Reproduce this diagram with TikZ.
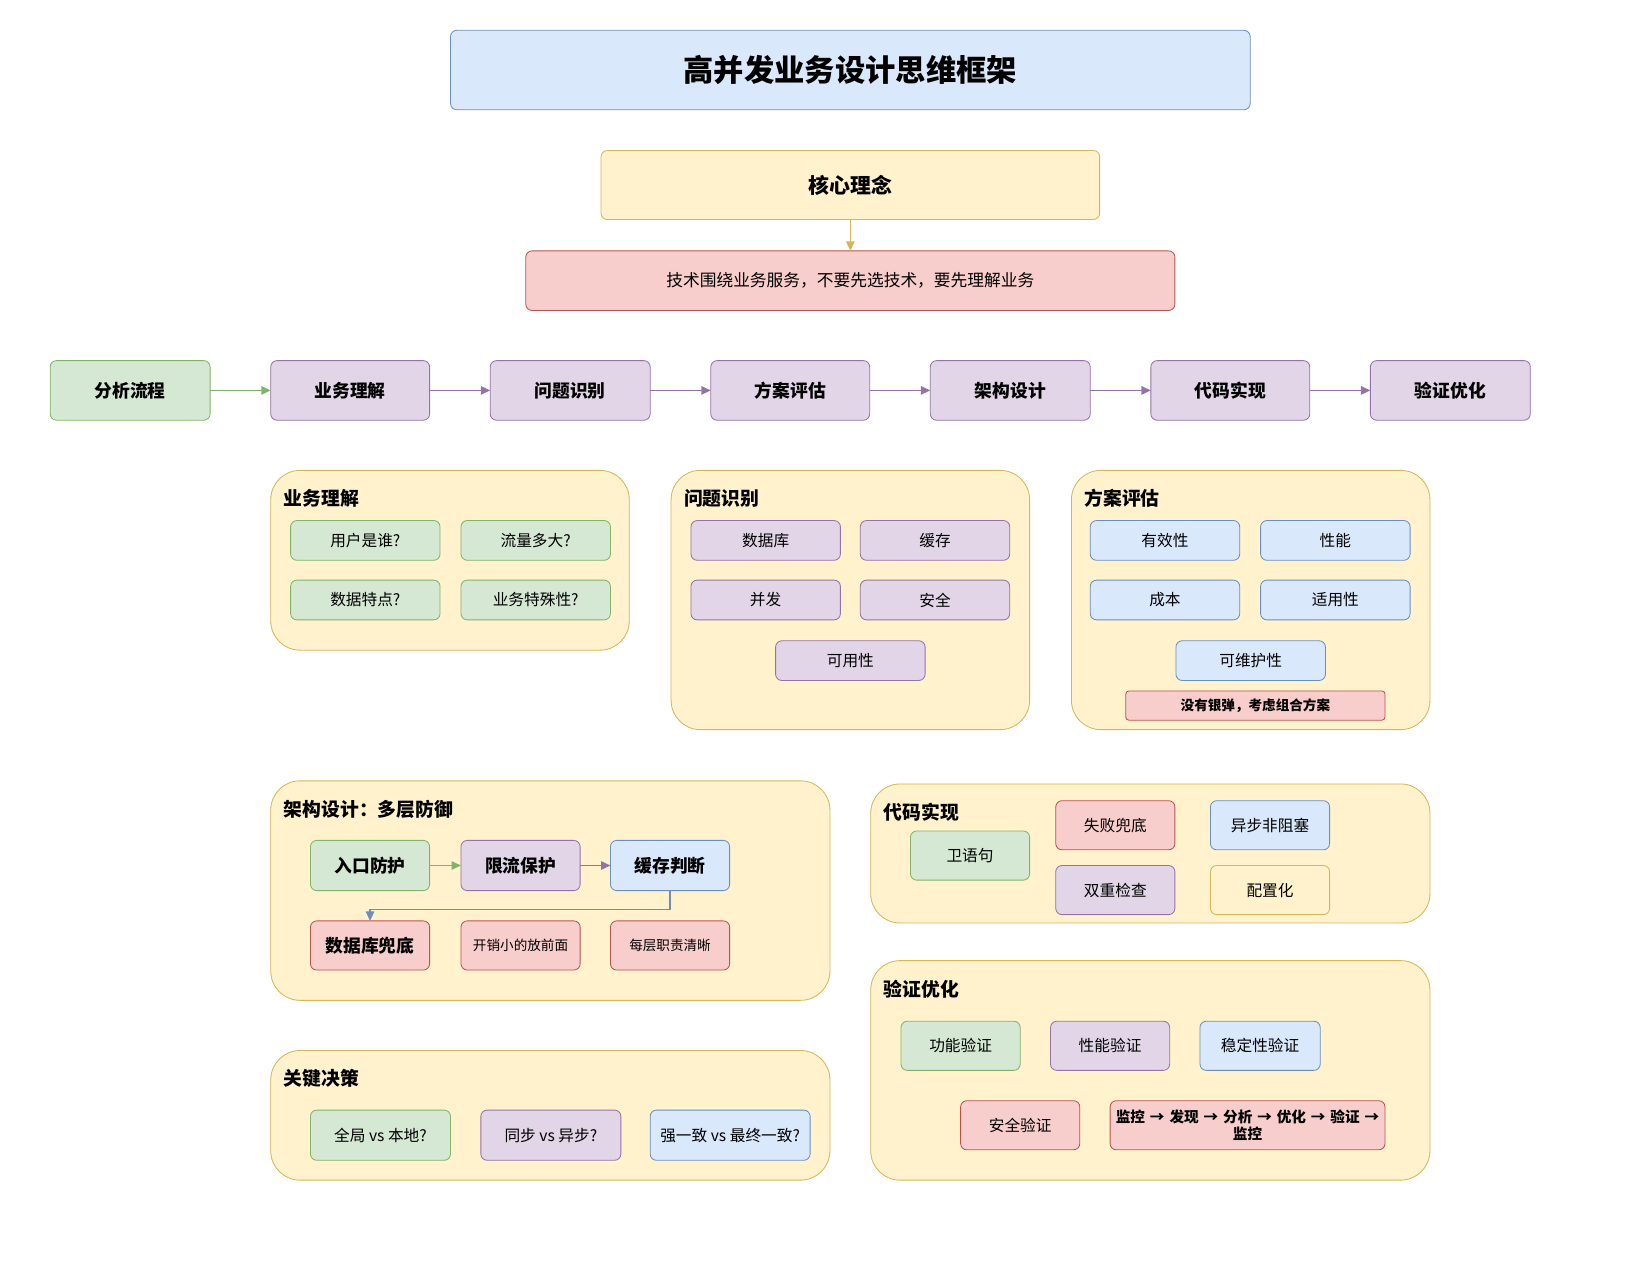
\documentclass[tikz,border=0pt]{standalone}
\usepackage{fontspec}
\setmainfont{Noto Sans CJK SC}
\usetikzlibrary{arrows.meta}
\definecolor{gF}{HTML}{D5E8D4}\definecolor{gD}{HTML}{82B366}
\definecolor{pF}{HTML}{E1D5E7}\definecolor{pD}{HTML}{9673A6}
\definecolor{bF}{HTML}{DAE8FC}\definecolor{bD}{HTML}{6C8EBF}
\definecolor{yF}{HTML}{FFF2CC}\definecolor{yD}{HTML}{D6B656}
\definecolor{rF}{HTML}{F8CECC}\definecolor{rD}{HTML}{B85450}
\newcommand\bx[7]{\node[#2, minimum width={#5-#3}, minimum height={#6-#4}] (#1) at ({(#3+#5)/2},{-(#4+#6)/2}) {#7};}
\newcommand\ptitle[4]{\node[anchor=west,font=\fontsize{18}{20}\selectfont\bfseries] (#1) at (#2,-#3) {#4};}
\tikzset{
 base/.style={draw,rounded corners=6pt,inner sep=2pt,outer sep=0pt,line width=0.8pt,align=center,font=\fontsize{15}{18}\selectfont},
 G/.style={base,fill=gF,draw=gD}, P/.style={base,fill=pF,draw=pD},
 B/.style={base,fill=bF,draw=bD}, Y/.style={base,fill=yF,draw=yD},
 R/.style={base,fill=rF,draw=rD},
 panel/.style={Y,rounded corners=28pt},
 st/.style={font=\fontsize{17}{20}\selectfont\bfseries},
 ar/.style={line width=1.6pt,-{Triangle[length=9pt,width=8pt]}},
}
\begin{document}
\begin{tikzpicture}[x=1pt,y=1pt]
\useasboundingbox (0,0) rectangle (1568,-1220);
\bx{title}{B,font=\fontsize{29}{32}\selectfont\bfseries}{431}{29}{1196}{105}{高并发业务设计思维框架}
\bx{core}{Y,font=\fontsize{20}{22}\selectfont\bfseries}{575}{144}{1052}{210}{核心理念}
\bx{tech}{R,font=\fontsize{16}{18}\selectfont}{503}{240}{1124}{297}{技术围绕业务服务，不要先选技术，要先理解业务}
\draw[ar,draw=yD] (core) -- (tech);
\bx{s0}{G,st}{48}{345}{201}{402}{分析流程}
\bx{s1}{P,st}{259}{345}{411}{402}{业务理解}
\bx{s2}{P,st}{469}{345}{622}{402}{问题识别}
\bx{s3}{P,st}{680}{345}{832}{402}{方案评估}
\bx{s4}{P,st}{890}{345}{1043}{402}{架构设计}
\bx{s5}{P,st}{1101}{345}{1253}{402}{代码实现}
\bx{s6}{P,st}{1311}{345}{1464}{402}{验证优化}
\draw[ar,draw=gD] (s0) -- (s1);
\foreach \a/\b in {s1/s2,s2/s3,s3/s4,s4/s5,s5/s6} \draw[ar,draw=pD] (\a) -- (\b);
% panel 1
\bx{p1}{panel}{259}{450}{602}{622}{}
\ptitle{p1t}{268}{477}{业务理解}
\bx{a1}{G}{278}{498}{421}{536}{用户是谁?}
\bx{a2}{G}{441}{498}{584}{536}{流量多大?}
\bx{a3}{G}{278}{555}{421}{593}{数据特点?}
\bx{a4}{G}{441}{555}{584}{593}{业务特殊性?}
% panel 2
\bx{p2}{panel}{642}{450}{985}{698}{}
\ptitle{p2t}{651}{477}{问题识别}
\bx{b1}{P}{661}{498}{804}{536}{数据库}
\bx{b2}{P}{823}{498}{966}{536}{缓存}
\bx{b3}{P}{661}{555}{804}{593}{并发}
\bx{b4}{P}{823}{555}{966}{593}{安全}
\bx{b5}{P}{742}{613}{885}{651}{可用性}
% panel 3
\bx{p3}{panel}{1025}{450}{1368}{698}{}
\ptitle{p3t}{1034}{477}{方案评估}
\bx{c1}{B}{1043}{498}{1186}{536}{有效性}
\bx{c2}{B}{1206}{498}{1349}{536}{性能}
\bx{c3}{B}{1043}{555}{1186}{593}{成本}
\bx{c4}{B}{1206}{555}{1349}{593}{适用性}
\bx{c5}{B}{1125}{613}{1268}{651}{可维护性}
\bx{c6}{R,rounded corners=3pt,font=\fontsize{13}{15}\selectfont\bfseries}{1077}{661}{1325}{689}{没有银弹，考虑组合方案}
% panel 4
\bx{p4}{panel}{259}{747}{794}{957}{}
\ptitle{p4t}{268}{774}{架构设计：多层防御}
\bx{d1}{G,st}{297}{804}{411}{852}{入口防护}
\bx{d2}{P,st}{441}{804}{555}{852}{限流保护}
\bx{d3}{B,st}{584}{804}{698}{852}{缓存判断}
\bx{d4}{R,st}{297}{881}{411}{928}{数据库兜底}
\bx{d5}{R,font=\fontsize{13}{15}\selectfont}{441}{881}{555}{928}{开销小的放前面}
\bx{d6}{R,font=\fontsize{13}{15}\selectfont}{584}{881}{698}{928}{每层职责清晰}
\draw[ar,draw=gD] (d1) -- (d2);
\draw[ar,draw=pD] (d2) -- (d3);
\draw[ar,draw=bD,line width=1.4pt] (d3.south) -- ++(0,-18) -| (d4.north);
% panel 5
\bx{p5}{panel}{259}{1005}{794}{1129}{}
\ptitle{p5t}{268}{1032}{关键决策}
\bx{e1}{G}{297}{1062}{431}{1110}{全局 vs 本地?}
\bx{e2}{P}{460}{1062}{594}{1110}{同步 vs 异步?}
\bx{e3}{B}{622}{1062}{775}{1110}{强一致 vs 最终一致?}
% panel 6
\bx{p6}{panel}{833}{750}{1368}{883}{}
\ptitle{p6t}{842}{777}{代码实现}
\bx{f1}{G}{871}{795}{985}{842}{卫语句}
\bx{f2}{R}{1010}{766}{1124}{813}{失败兜底}
\bx{f3}{B}{1158}{766}{1272}{813}{异步非阻塞}
\bx{f4}{P}{1010}{828}{1124}{875}{双重检查}
\bx{f5}{Y}{1158}{828}{1272}{875}{配置化}
% panel 7
\bx{p7}{panel}{833}{919}{1368}{1129}{}
\ptitle{p7t}{842}{946}{验证优化}
\bx{g1}{G}{862}{977}{976}{1024}{功能验证}
\bx{g2}{P}{1005}{977}{1119}{1024}{性能验证}
\bx{g3}{B}{1148}{977}{1263}{1024}{稳定性验证}
\bx{g4}{R}{919}{1053}{1033}{1100}{安全验证}
\bx{g5}{R,font=\fontsize{14}{16}\selectfont\bfseries,text width=255pt}{1062}{1053}{1325}{1100}{监控 → 发现 → 分析 → 优化 → 验证 →\\监控}
\end{tikzpicture}
\end{document}
